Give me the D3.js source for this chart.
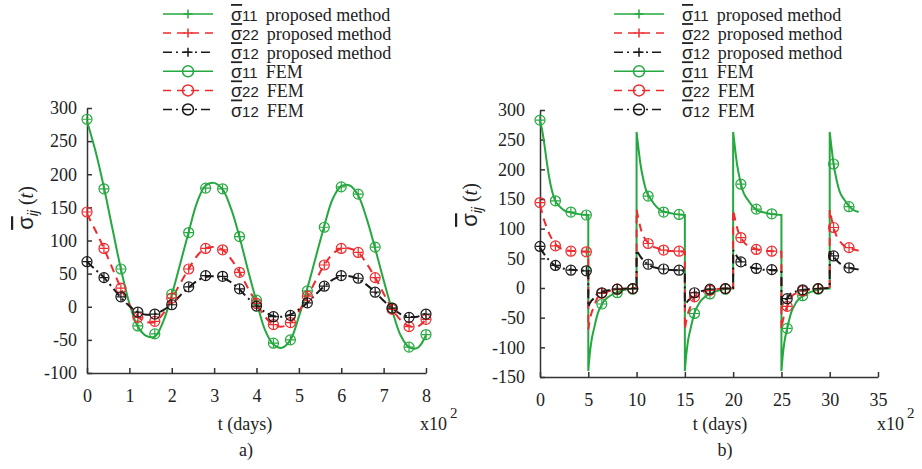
<!DOCTYPE html>
<html>
<head>
<meta charset="utf-8">
<script src="https://cdn.jsdelivr.net/npm/d3@7"></script>
<style>
body{margin:0;background:#fff;}
svg{display:block;}
.axis path,.axis line{stroke:#333;stroke-width:1.5;}
.serif{font-family:"Liberation Serif","Times New Roman",serif;}
.sans{font-family:"Liberation Sans",Arial,sans-serif;}
</style>
</head>
<body>
<script>
//---- panel a) : smooth cyclic response, t in x10^2 days
var leftT = [0,0.2,0.4,0.6,0.8,1,1.2,1.4,1.6,1.8,2,2.2,2.4,2.6,2.8,3,3.2,3.4,3.6,3.8,4,
	4.2,4.4,4.6,4.8,5,5.2,5.4,5.6,5.8,6,6.2,6.4,6.6,6.8,7,7.2,7.4,7.6,7.8,8];
var leftS11 = [280,235,180,118,57,5,-30,-44,-45,-22,18,65,113,158,183,187,177,148,105,55,8,
	-35,-57,-62,-50,-15,28,75,122,163,182,183,168,133,88,40,-5,-43,-61,-62,-43];
var leftS22 = [140,115,88,58,28,3,-15,-23,-23,-10,12,35,57,77,88,90,86,72,52,28,6,
	-15,-27,-30,-24,-7,15,40,63,80,88,88,82,65,44,20,-3,-20,-29,-30,-19];
var leftS12 = [68,56,44,29,14,1,-8,-12,-11,-5,4,17,29,39,45,46,44,37,26,13,2,
	-8,-14,-15,-12,-4,6,19,31,41,46,46,42,33,22,9,-2,-11,-15,-15,-10];

var leftFemT = [0,0.4,0.8,1.2,1.6,2,2.4,2.8,3.2,3.6,4,4.4,4.8,5.2,5.6,6,6.4,6.8,7.2,7.6,8];
var leftFem11 = [283,178,57,-29,-41,19,112,179,178,106,10,-55,-50,24,120,181,170,90,-2,-61,-42];
var leftFem22 = [143,88,28,-16,-22,13,57,88,86,52,5,-27,-24,16,63,88,82,44,-4,-30,-19];
var leftFem12 = [68,44,15,-8,-11,3,30,47,46,27,1,-15,-13,6,31,47,43,22,-2,-16,-11];

//---- panel b) : loading / unloading every 5 x10^2 days
var rightT = [0,0.2,0.4,0.7,1,1.5,2,2.5,3,4,5,
	5,5.15,5.3,5.6,6,6.5,7,8,9,10,
	10,10.2,10.4,10.7,11,11.5,12,12.5,13,14,15,
	15,15.15,15.3,15.6,16,16.5,17,18,19,20,
	20,20.2,20.4,20.7,21,21.5,22,22.5,23,24,25,
	25,25.15,25.3,25.6,26,26.5,27,28,29,30,
	30,30.2,30.4,30.7,31,31.5,32,32.5,33];
var rightS11 = [282,268,248,213,182,150,138,131,128,124.5,123,
	-140,-112,-92,-68,-42,-25,-16,-7,-2,-1,
	263,235,209,183,164,149,138,131,128,124.5,123,
	-140,-112,-92,-68,-42,-25,-16,-7,-2,-1,
	263,235,209,183,164,149,138,131,128,124.5,123,
	-140,-112,-92,-68,-42,-25,-16,-7,-2,-1,
	263,235,209,183,164,149,138,131,128];
var rightS22 = [140,128,116,102,90,76,68,65,63,62,61,
	-70,-55,-44,-31,-15,-9,-6,-2,-1,0,
	132,116,102,88,80,71,68,65,63,62,61,
	-70,-55,-44,-31,-15,-9,-6,-2,-1,0,
	132,116,102,88,80,71,68,65,63,62,61,
	-70,-55,-44,-31,-15,-9,-6,-2,-1,0,
	132,116,102,88,80,71,68,65,63];
var rightS12 = [68,63,58,51,46,38,34,32.5,31,30,29,
	-32,-26,-22,-17,-9,-6,-4,-2,-1,0,
	64,58,53,47,42,37,34,32.5,31,30,29,
	-32,-26,-22,-17,-9,-6,-4,-2,-1,0,
	64,58,53,47,42,37,34,32.5,31,30,29,
	-32,-26,-22,-17,-9,-6,-4,-2,-1,0,
	64,58,53,47,42,37,34,32.5,31];

var rightFemT = [0,1.6,3.2,4.8,6.4,8,9.6,11.2,12.8,14.4,16,17.6,19.2,20.8,22.4,24,25.6,27.2,28.8,30.4,32];
var rightFem11 = [283,147,128,123,-27,-8,-2,155,128,124,-43,-10,-2,175,133,125,-68,-13,-2,209,137];
var rightFem22 = [144,71,62,61,-9,-2,-1,75,64,62,-15,-4,-1,85,65,62,-31,-5,-1,102,68];
var rightFem12 = [70,38,30,29,-8,-2,-1,40,32,30,-8,-2,-1,44,33,31,-18,-3,-1,54,34];

//legend entries
var legendSub = ["11","22","12","11","22","12"];
var legendName = ["proposed method","proposed method","proposed method","FEM","FEM","FEM"];

var leftXTicks = [0,1,2,3,4,5,6,7,8];
var leftYTicks = [-100,-50,0,50,100,150,200,250,300];
var rightXTicks = [0,5,10,15,20,25,30,35];
var rightYTicks = [-150,-100,-50,0,50,100,150,200,250,300];

//series styles
var styles = [
	{color:"#25a83f", dash:null},
	{color:"#ee2b2e", dash:"8,6"},
	{color:"#1a1a1a", dash:"9,4,2,4"}
];

var svg = d3.select("body").append("svg")
	.attr("width", 922)
	.attr("height", 469);

//build a path, splitting at repeated t (vertical jumps) so each piece is smoothed on its own
function seriesPath(ts, vs, x, y, curve){
	var segs = [], cur = [[x(ts[0]), y(vs[0])]];
	for (var i=1; i<ts.length; i++){
		if (ts[i] === ts[i-1]){
			segs.push(cur);
			cur = [];
		}
		cur.push([x(ts[i]), y(vs[i])]);
	}
	segs.push(cur);
	var line = d3.line().curve(curve);
	return segs.map(function(s, k){
		var d = line(s);
		return k ? "L" + d.slice(1) : d;
	}).join("");
}

function drawMarker(g, cx, cy, color){
	g.append("circle")
		.attr("cx", cx).attr("cy", cy).attr("r", 5)
		.attr("fill", "none").attr("stroke", color).attr("stroke-width", 1.2);
	g.append("path")
		.attr("d", "M" + (cx-4.5) + "," + cy + "H" + (cx+4.5) + "M" + cx + "," + (cy-4.5) + "V" + (cy+4.5))
		.attr("stroke", color).attr("stroke-width", 1.2);
}

function styleTicks(g){
	g.selectAll(".tick text")
		.attr("font-family", null)
		.style("font-family", "'Liberation Serif','Times New Roman',serif")
		.style("font-size", "18px")
		.attr("fill", "#222");
}

function drawPanel(p){
	var x = d3.scaleLinear().domain(p.xDomain).range(p.xRange);
	var y = d3.scaleLinear().domain(p.yDomain).range(p.yRange);

	//axes with inward ticks
	svg.append("g")
		.attr("class", "axis")
		.attr("transform", "translate(0," + p.yRange[0] + ")")
		.call(d3.axisBottom(x).tickValues(p.xTicks).tickSizeInner(-5).tickSizeOuter(0)
			.tickPadding(16).tickFormat(function(d){ return String(d); }))
		.call(styleTicks);
	svg.append("g")
		.attr("class", "axis")
		.attr("transform", "translate(" + p.xRange[0] + ",0)")
		.call(d3.axisLeft(y).tickValues(p.yTicks).tickSizeInner(-5).tickSizeOuter(0)
			.tickPadding(p.yPad).tickFormat(function(d){ return String(d); }))
		.call(styleTicks);

	//curves
	var plot = svg.append("g");
	p.lines.forEach(function(vs, k){
		plot.append("path")
			.attr("d", seriesPath(p.t, vs, x, y, p.curve))
			.attr("fill", "none")
			.attr("stroke", styles[k].color)
			.attr("stroke-width", 2)
			.attr("stroke-dasharray", styles[k].dash);
	});

	//FEM markers (circle) with proposed-method markers (+)
	p.fem.forEach(function(vs, k){
		vs.forEach(function(v, i){
			drawMarker(plot, x(p.femT[i]), y(v), styles[k].color);
		});
	});

	//y label
	var yl = svg.append("text")
		.attr("transform", "translate(" + p.yLabel[0] + "," + p.yLabel[1] + ") rotate(-90)")
		.attr("text-anchor", "middle")
		.attr("fill", "#222");
	yl.append("tspan").attr("class", "sans").style("font-size", "22px")
		.style("text-decoration", "overline").text("σ");
	yl.append("tspan").attr("class", "sans").style("font-size", "14px").style("font-style", "italic")
		.attr("dy", 5).text("ij");
	yl.append("tspan").attr("class", "serif").style("font-size", "20px").attr("dy", -5).text(" (");
	yl.append("tspan").attr("class", "serif").style("font-size", "20px").style("font-style", "italic").text("t");
	yl.append("tspan").attr("class", "serif").style("font-size", "20px").text(")");

	//x label, multiplier, panel caption
	svg.append("text").attr("class", "serif").style("font-size", "18px").attr("fill", "#222")
		.attr("x", p.xLabel[0]).attr("y", p.xLabel[1]).attr("text-anchor", "middle").text("t (days)");
	var mul = svg.append("text").attr("class", "serif").style("font-size", "18px").attr("fill", "#222")
		.attr("x", p.mul[0]).attr("y", p.mul[1]);
	mul.append("tspan").text("x10");
	mul.append("tspan").attr("dx", 3).attr("dy", -12).style("font-size", "15px").text("2");
	svg.append("text").attr("class", "serif").style("font-size", "18px").attr("fill", "#222")
		.attr("x", p.cap[0]).attr("y", p.cap[1]).attr("text-anchor", "middle").text(p.caption);

	//legend
	var lg = svg.append("g");
	legendSub.forEach(function(sub, i){
		var ly = 14 + i * 19.1;
		var st = styles[i % 3];
		lg.append("line")
			.attr("x1", p.legX).attr("x2", p.legX + 50).attr("y1", ly).attr("y2", ly)
			.attr("stroke", st.color).attr("stroke-width", 1.5).attr("stroke-dasharray", st.dash);
		if (i < 3){
			lg.append("path")
				.attr("d", "M" + (p.legX+20.5) + "," + ly + "H" + (p.legX+29.5) + "M" + (p.legX+25) + "," + (ly-4.5) + "V" + (ly+4.5))
				.attr("stroke", st.color).attr("stroke-width", 1.5);
		} else {
			lg.append("circle").attr("cx", p.legX + 25).attr("cy", ly).attr("r", 5.5)
				.attr("fill", "none").attr("stroke", st.color).attr("stroke-width", 1.5);
		}
		var tx = lg.append("text").attr("x", p.legX + 68).attr("y", ly + 7).attr("fill", "#222");
		tx.append("tspan").attr("class", "sans").style("font-size", "18px")
			.style("text-decoration", "overline").text("σ");
		tx.append("tspan").attr("class", "sans").style("font-size", "15px").text(sub);
		tx.append("tspan").attr("class", "serif").style("font-size", "18px").attr("dx", 8).text(legendName[i]);
	});
}

drawPanel({
	xDomain:[0,8], xRange:[87,426], yDomain:[-100,300], yRange:[373,108],
	xTicks:leftXTicks, yTicks:leftYTicks, yPad:10,
	t:leftT, lines:[leftS11, leftS22, leftS12], curve:d3.curveCatmullRom.alpha(0.5),
	femT:leftFemT, fem:[leftFem11, leftFem22, leftFem12],
	yLabel:[33,208], xLabel:[245,430], mul:[420,430], cap:[246,456], caption:"a)",
	legX:163
});

drawPanel({
	xDomain:[0,35], xRange:[540,878], yDomain:[-150,300], yRange:[377,110],
	xTicks:rightXTicks, yTicks:rightYTicks, yPad:15,
	t:rightT, lines:[rightS11, rightS22, rightS12], curve:d3.curveMonotoneX,
	femT:rightFemT, fem:[rightFem11, rightFem22, rightFem12],
	yLabel:[477,205], xLabel:[720,430], mul:[877,430], cap:[725,456], caption:"b)",
	legX:614
});
</script>
</body>
</html>
